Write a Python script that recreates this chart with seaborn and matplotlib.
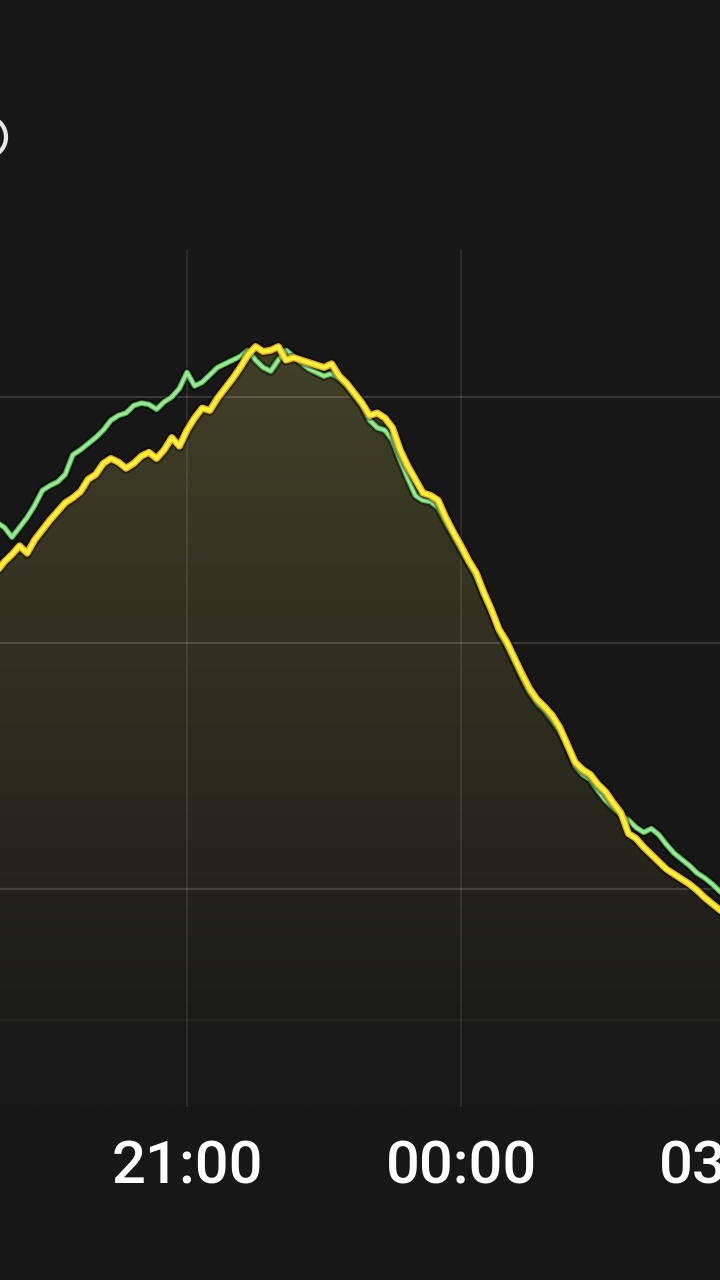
import numpy as np
import pandas as pd
import matplotlib
matplotlib.use("Agg")
import matplotlib.pyplot as plt
import matplotlib.dates as mdates
import matplotlib.patheffects as pe
from matplotlib.patches import Ellipse
import seaborn as sns

# ---------------- data ----------------
start_time = "2024-05-01 18:55"
interval = "5min"

yellow_vals = [45.8, 46.6, 47.2, 47.9, 47.3, 48.4, 49.2, 50.0, 50.7, 51.4,
               51.8, 52.3, 53.3, 53.7, 54.6, 55.0, 54.7, 54.2, 54.6, 55.2,
               55.5, 55.0, 55.7, 56.7, 56.0, 57.3, 58.3, 59.1, 58.9, 59.9,
               60.7, 61.5, 62.4, 63.4, 64.1, 63.7, 63.8, 64.1, 63.0, 63.2,
               63.0, 62.8, 62.6, 62.4, 62.7, 61.7, 61.1, 60.3, 59.5, 58.5,
               58.7, 58.3, 57.5, 55.7, 54.4, 53.3, 52.2, 52.0, 51.6, 50.2,
               49.0, 47.9, 46.7, 45.7, 44.1, 42.7, 41.1, 40.1, 38.8, 37.5,
               36.3, 35.4, 34.8, 34.1, 33.1, 31.7, 30.3, 29.7, 29.3, 28.5,
               27.9, 27.0, 26.2, 24.5, 24.1, 23.4, 22.8, 22.2, 21.6, 21.2,
               20.8, 20.4, 19.9, 19.3, 18.8, 18.3, 17.8, 17.3]

green_vals = [49.8, 49.4, 48.6, 49.4, 50.2, 51.2, 52.4, 52.8, 53.1, 53.7,
              55.3, 55.7, 56.2, 56.7, 57.3, 58.1, 58.5, 58.7, 59.3, 59.5,
              59.4, 59.0, 59.6, 60.0, 60.7, 62.0, 60.9, 61.2, 61.8, 62.4,
              62.7, 63.0, 63.3, 63.8, 63.0, 62.4, 62.1, 63.0, 63.8, 63.3,
              62.8, 62.3, 62.0, 61.7, 61.9, 61.5, 60.9, 60.1, 59.3, 58.1,
              57.5, 57.3, 56.5, 54.9, 53.4, 52.0, 51.6, 51.5, 51.0, 49.8,
              48.7, 47.6, 46.5, 45.4, 43.9, 42.5, 40.9, 39.8, 38.5, 37.2,
              36.0, 35.1, 34.5, 33.7, 32.8, 31.5, 30.0, 29.3, 28.9, 28.0,
              27.2, 26.6, 26.0, 25.6, 25.0, 24.6, 24.9, 24.4, 23.6, 22.9,
              22.4, 21.9, 21.3, 20.9, 20.4, 19.8, 19.3, 18.8]

grid_values = [20, 40, 60]
faint_line_value = 9.35
x_start = "2024-05-01 18:57:09"
x_end = "2024-05-02 03:16:24"
y_range = (2.27, 71.95)

# ---------------- style ----------------
sns.set_theme(style="dark")
plt.rcParams["font.family"] = ["Roboto", "DejaVu Sans"]
plt.rcParams["grid.alpha"] = 1.0

BG = "#171717"
times = pd.date_range(start_time, periods=len(yellow_vals), freq=interval)
df = pd.DataFrame({"time": times, "yellow": yellow_vals, "green": green_vals})

fig = plt.figure(figsize=(7.2, 12.8), dpi=100, facecolor=BG)
ax = fig.add_axes([0, 1 - 1107 / 1280, 760 / 720, 857 / 1280])
ax.set_facecolor(BG)
ax.set_axisbelow(True)

xlo, xhi = pd.Timestamp(x_start), pd.Timestamp(x_end)
ax.set_xlim(xlo, xhi)
ax.set_ylim(*y_range)

# gradient fill under the yellow series
poly = ax.fill_between(df["time"], df["yellow"], y_range[0], facecolor="none",
                       edgecolor="none")
vals = np.linspace(y_range[1], y_range[0], 400)
top_c = np.array([64, 62, 38]) / 255.0
bot_c = np.array([24, 24, 24]) / 255.0
t = np.clip((vals - 8) / (62 - 8), 0, 1) ** 0.85
grad = bot_c[None, :] + t[:, None] * (top_c - bot_c)[None, :]
grad = grad[:, None, :]
img = ax.imshow(grad, aspect="auto", zorder=0.2,
                extent=[mdates.date2num(xlo), mdates.date2num(xhi),
                        y_range[0], y_range[1]], interpolation="bilinear")
img.set_clip_path(poly.get_paths()[0], transform=ax.transData)
ax.set_xlim(xlo, xhi)
ax.set_ylim(*y_range)

# grid
ax.set_yticks(grid_values)
ax.xaxis.set_major_locator(mdates.HourLocator(byhour=[0, 3, 6, 9, 12, 15, 18, 21]))
ax.xaxis.set_major_formatter(mdates.DateFormatter("%H:%M"))
ax.grid(False)
ax.xaxis.grid(True, color="#ffffff", alpha=0.10, linewidth=1.2)
ax.yaxis.grid(True, color="#ffffff", alpha=0.15, linewidth=1.6)
ax.axhline(faint_line_value, color="#ffffff", alpha=0.06, linewidth=1.2,
           zorder=0.5)

# lines
sns.lineplot(data=df, x="time", y="green", ax=ax, color="#9be894", lw=2.4,
             zorder=3, path_effects=[
                 pe.Stroke(linewidth=7, foreground="black", alpha=0.35),
                 pe.Stroke(linewidth=4.0, foreground="#4aa84f"),
                 pe.Normal()])
sns.lineplot(data=df, x="time", y="yellow", ax=ax, color="#fff03c", lw=3.0,
             zorder=4, path_effects=[
                 pe.Stroke(linewidth=8, foreground="black", alpha=0.35),
                 pe.Stroke(linewidth=5.0, foreground="#e6ad1c"),
                 pe.Normal()])

for s in ax.spines.values():
    s.set_visible(False)
ax.set_xlabel("")
ax.set_ylabel("")
ax.tick_params(axis="y", labelleft=False, length=0)
ax.tick_params(axis="x", length=0, pad=23, labelsize=43, colors="white")
for lbl in ax.get_xticklabels():
    lbl.set_fontweight("medium")

# partial ring at the top-left edge
fig.add_artist(Ellipse((-11 / 720, 1 - 137 / 1280), 34 / 720, 38 / 1280,
                       transform=fig.transFigure, facecolor="none",
                       edgecolor="white", linewidth=3, alpha=0.9))

fig.savefig("out.png", dpi=100, facecolor=BG)
